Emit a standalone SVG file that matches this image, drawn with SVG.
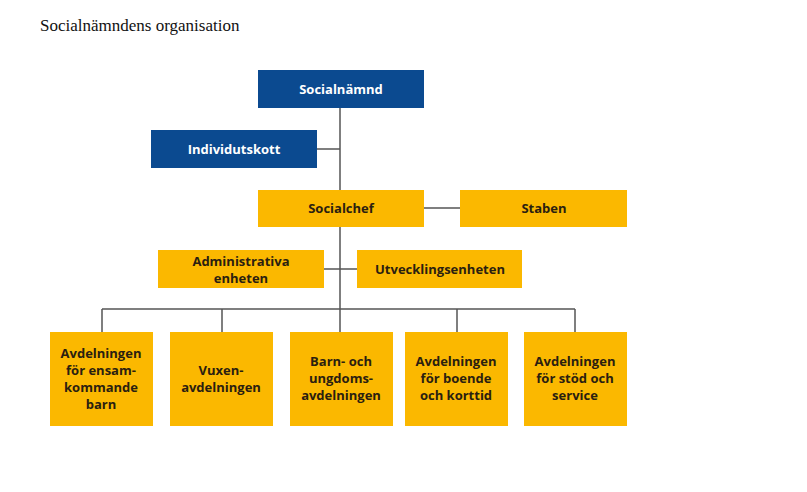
<svg xmlns="http://www.w3.org/2000/svg" width="807" height="492" viewBox="0 0 807 492">
<style>
.b{fill:#0b4a90}.o{fill:#fbb800}
.t{font-family:"Open Sans","DejaVu Sans",sans-serif;font-weight:bold;font-size:13px;text-anchor:middle}
.w{fill:#fff}.k{fill:#2a2010}
.c{stroke:#555;stroke-width:1.5;fill:none}
</style>
<rect width="807" height="492" fill="#fff"/>
<text x="40" y="31" font-family="Liberation Serif,serif" font-size="17" fill="#111">Socialnämndens organisation</text>
<g id="connectors" class="c">
<path d="M340 108V332M317 149H340M424 208H460M324 269H357M102 309H575M102 309V332M222 309V332M457 309V332M575 309V332"/>
</g>
<g id="n1"><rect class="b" x="258" y="70" width="166" height="38"/><text class="t w" x="341" y="94">Socialnämnd</text></g>
<g id="n2"><rect class="b" x="151" y="130" width="166" height="38"/><text class="t w" x="234" y="154">Individutskott</text></g>
<g id="n3"><rect class="o" x="258" y="190" width="166" height="37"/><text class="t k" x="341" y="213">Socialchef</text></g>
<g id="n4"><rect class="o" x="460" y="190" width="167" height="37"/><text class="t k" x="544" y="213">Staben</text></g>
<g id="n5"><rect class="o" x="158" y="250" width="166" height="38"/><text class="t k" x="241" y="266">Administrativa</text><text class="t k" x="241" y="283">enheten</text></g>
<g id="n6"><rect class="o" x="357" y="250" width="165" height="38"/><text class="t k" x="440" y="274">Utvecklingsenheten</text></g>
<g id="n7"><rect class="o" x="50" y="332" width="103" height="94"/><text class="t k" x="101" y="358">Avdelningen</text><text class="t k" x="101" y="375">för ensam-</text><text class="t k" x="101" y="392">kommande</text><text class="t k" x="101" y="409">barn</text></g>
<g id="n8"><rect class="o" x="170" y="332" width="103" height="94"/><text class="t k" x="221" y="375">Vuxen-</text><text class="t k" x="221" y="392">avdelningen</text></g>
<g id="n9"><rect class="o" x="290" y="332" width="103" height="94"/><text class="t k" x="341" y="366">Barn- och</text><text class="t k" x="341" y="383">ungdoms-</text><text class="t k" x="341" y="400">avdelningen</text></g>
<g id="n10"><rect class="o" x="405" y="332" width="103" height="94"/><text class="t k" x="456" y="366">Avdelningen</text><text class="t k" x="456" y="383">för boende</text><text class="t k" x="456" y="400">och korttid</text></g>
<g id="n11"><rect class="o" x="524" y="332" width="103" height="94"/><text class="t k" x="575" y="366">Avdelningen</text><text class="t k" x="575" y="383">för stöd och</text><text class="t k" x="575" y="400">service</text></g>
</svg>
